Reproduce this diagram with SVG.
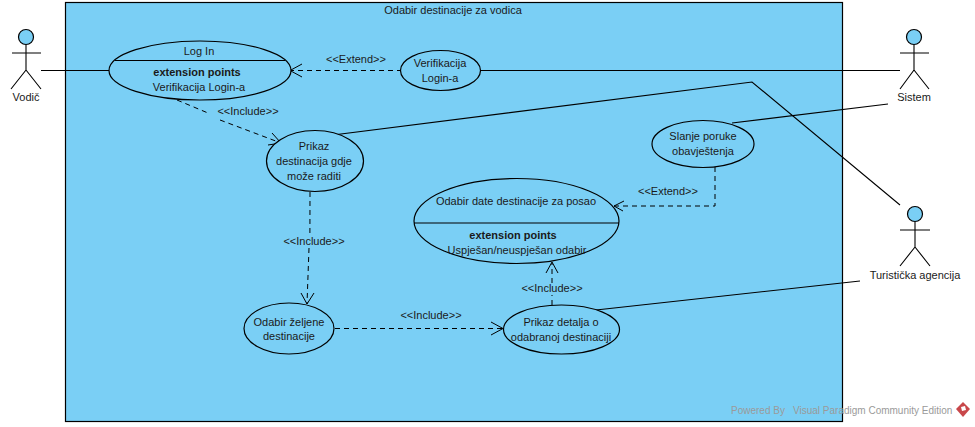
<svg xmlns="http://www.w3.org/2000/svg" width="975" height="427" viewBox="0 0 975 427">
<defs>
<style>
text{font-family:"Liberation Sans",Arial,sans-serif;font-size:11px;fill:#1a1a1a;text-anchor:middle}
.b{font-weight:bold}
.u{fill:#7acff5;stroke:#000;stroke-width:1.2}
.l{fill:none;stroke:#000;stroke-width:1.1}
.d{fill:none;stroke:#000;stroke-width:1;stroke-dasharray:5 4}
.h{fill:none;stroke:#000;stroke-width:1}
.wm{fill:#9a9a9a;font-size:10px;text-anchor:start}
</style>
</defs>
<rect id="system" x="65.500" y="2.500" width="777" height="419" fill="#7acff5" stroke="#000" stroke-width="1.200"/>
<text x="453" y="14">Odabir destinacije za vodica</text>
<g id="connectors">
<path class="l" d="M41 70.500H109"/>
<path class="l" d="M480 70.500H900"/>
<path class="l" d="M337 134.500L752 82L900 205"/>
<path class="l" d="M732 123L888 104"/>
<path class="l" d="M596 310L860 281"/>
<path class="d" d="M177 100L208 113"/>
<path class="d" d="M220 120L281 143"/>
<path class="h" d="M272 133L281 143L268 145"/>
<path class="d" d="M289 70.500H400"/>
<path class="h" d="M302 64L290 70.500L302 77"/>
<path class="d" d="M310 192L309.900 235"/>
<path class="d" d="M309 248L307 304"/>
<path class="h" d="M301 293L307 304L314 293"/>
<path class="d" d="M335 328.500H503"/>
<path class="h" d="M491 322L503 328.500L491 335"/>
<path class="d" d="M552 305V295"/>
<path class="d" d="M552 283V263"/>
<path class="h" d="M546 273L552 262L558 273"/>
<path class="d" d="M715 167V206H614"/>
<path class="h" d="M624 201L614 206L623 211"/>
</g>
<g id="actor-vodic">
<circle class="u" cx="26" cy="37" r="7.500"/>
<path class="l" d="M26 45V70M12 53H41M26 70L11 89M26 70L41 89"/>
<text x="26" y="101">Vodič</text>
</g>
<g id="actor-sistem">
<circle class="u" cx="914" cy="37" r="7.500"/>
<path class="l" d="M914 45V70M900 53H929M914 70L900 89M914 70L929 89"/>
<text x="914" y="101">Sistem</text>
</g>
<g id="actor-agencija">
<circle class="u" cx="915" cy="214" r="7.500"/>
<path class="l" d="M915 222V247M900 230H930M915 247L900 266M915 247L930 266"/>
<text x="915" y="279">Turistička agencija</text>
</g>
<g id="uc-login">
<ellipse class="u" cx="200" cy="70.500" rx="91" ry="29.500"/>
<path class="l" d="M115 60.500H285"/>
<text x="199" y="55">Log In</text>
<text class="b" x="197" y="76">extension points</text>
<text x="199" y="91">Verifikacija Login-a</text>
</g>
<g id="uc-verifikacija">
<ellipse class="u" cx="440.500" cy="70.500" rx="40" ry="20"/>
<text x="440" y="67">Verifikacija</text>
<text x="440" y="82">Login-a</text>
</g>
<g id="uc-prikaz">
<ellipse class="u" cx="315" cy="161" rx="48.500" ry="30.500"/>
<text x="314" y="150">Prikaz</text>
<text x="314" y="165">destinacija gdje</text>
<text x="314" y="180">može raditi</text>
</g>
<g id="uc-slanje">
<ellipse class="u" cx="703" cy="144" rx="51" ry="23.500"/>
<text x="703" y="140">Slanje poruke</text>
<text x="703" y="155">obavještenja</text>
</g>
<g id="uc-odabir-date">
<ellipse class="u" cx="516.500" cy="221" rx="102.500" ry="42.500"/>
<path class="l" d="M414 223H619"/>
<text x="516" y="205">Odabir date destinacije za posao</text>
<text class="b" x="513" y="239">extension points</text>
<text x="517" y="254">Uspješan/neuspješan odabir</text>
</g>
<g id="uc-zeljene">
<ellipse class="u" cx="289" cy="328.500" rx="45" ry="25.500"/>
<text x="289" y="326">Odabir željene</text>
<text x="289" y="340">destinacije</text>
</g>
<g id="uc-detalji">
<ellipse class="u" cx="561.500" cy="329.500" rx="58" ry="24.500"/>
<text x="561" y="326">Prikaz detalja o</text>
<text x="561" y="341">odabranoj destinaciji</text>
</g>
<g id="labels">
<text x="356" y="63">&lt;&lt;Extend&gt;&gt;</text>
<text x="248" y="115">&lt;&lt;Include&gt;&gt;</text>
<text x="314" y="245">&lt;&lt;Include&gt;&gt;</text>
<text x="431" y="319">&lt;&lt;Include&gt;&gt;</text>
<text x="552" y="292">&lt;&lt;Include&gt;&gt;</text>
<text x="668" y="195">&lt;&lt;Extend&gt;&gt;</text>
</g>
<text class="wm" x="731" y="414">Powered By</text>
<text class="wm" x="793" y="414">Visual Paradigm Community Edition</text>
<path d="M963 402L970 409L963 417L956 409Z" fill="#c8474a"/>
<path d="M961 407L965 406L966 410L962 411Z" fill="#fff"/>
</svg>
